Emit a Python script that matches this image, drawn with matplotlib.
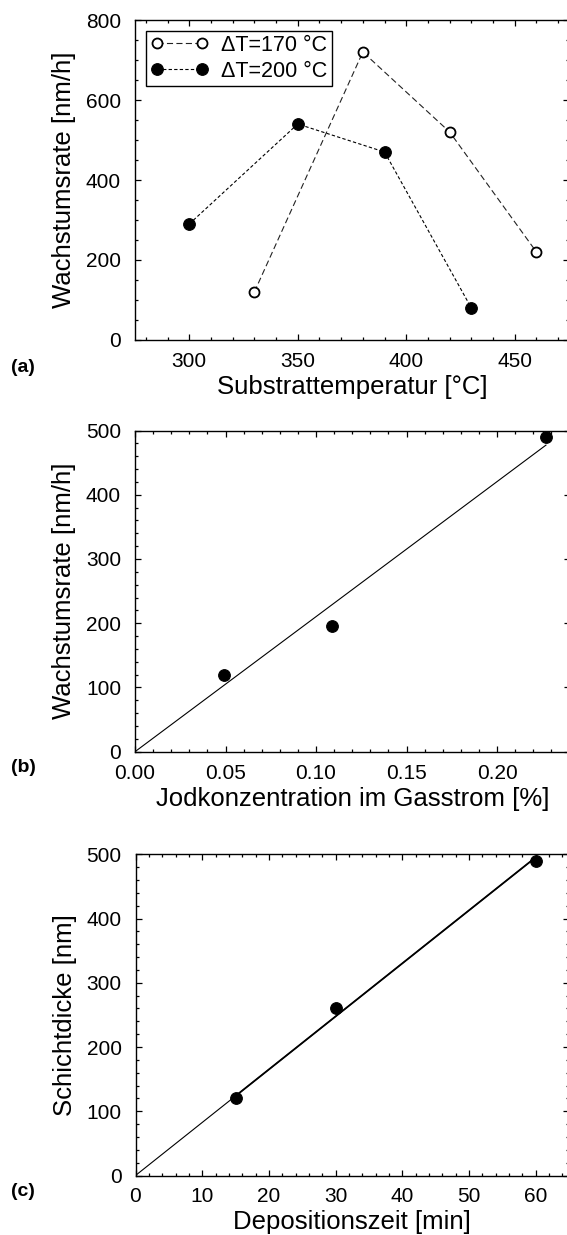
import numpy as np
import matplotlib
matplotlib.use("Agg")
import matplotlib.pyplot as plt
from matplotlib.ticker import MultipleLocator, FormatStrFormatter

# (a) Wachstumsrate vs. Substrattemperatur
temp_170 = [330, 380, 420, 460]
rate_170 = [120, 720, 520, 220]
temp_200 = [300, 350, 390, 430]
rate_200 = [290, 540, 470, 80]

# (b) Wachstumsrate vs. Jodkonzentration
jod = [0.049, 0.109, 0.227]
rate_jod = [120, 195, 490]

# (c) Schichtdicke vs. Depositionszeit
zeit = [15, 30, 60]
dicke = [120, 260, 490]

plt.rcParams["font.family"] = ["Liberation Sans", "DejaVu Sans"]
plt.rcParams["mathtext.default"] = "regular"

W, H = 567, 1235
fig = plt.figure(figsize=(W / 100, H / 100), dpi=100)


def box(left, right, top, bottom):
    return [left / W, 1 - bottom / H, (right - left) / W, (bottom - top) / H]


def style_axes(ax):
    for s in ax.spines.values():
        s.set_linewidth(1.0)
    ax.tick_params(which="both", direction="in", top=True, right=True, width=0.9)
    ax.tick_params(which="major", length=4.2)
    ax.tick_params(which="minor", length=2.2)
    ax.tick_params(axis="x", labelsize=15, pad=8.5)
    ax.tick_params(axis="y", labelsize=15, pad=10)


def fit_origin(x, y):
    x = np.asarray(x, float)
    y = np.asarray(y, float)
    return np.sum(x * y) / np.sum(x * x)


# ---------- (a) ----------
ax1 = fig.add_axes(box(135, 569, 20, 340))
ax1.plot(temp_170, rate_170, color="#222222", lw=0.8, dashes=(5.5, 3),
         marker="o", ms=7.2, mfc="white", mec="black", mew=1.3,
         label="ΔT=170 °C")
ax1.plot(temp_200, rate_200, color="black", lw=0.8, dashes=(3, 2),
         marker="o", ms=8.4, mfc="black", mec="black", mew=0.8,
         label="ΔT=200 °C")
ax1.set_xlim(275, 475)
ax1.set_ylim(0, 800)
ax1.xaxis.set_major_locator(MultipleLocator(50))
ax1.xaxis.set_minor_locator(MultipleLocator(10))
ax1.yaxis.set_major_locator(MultipleLocator(200))
ax1.yaxis.set_minor_locator(MultipleLocator(50))
style_axes(ax1)
ax1.set_xlabel("Substrattemperatur [°C]", fontsize=18.5, va="top")
ax1.set_ylabel("Wachstumsrate [nm/h]", fontsize=18.5)
leg = ax1.legend(loc="upper left", bbox_to_anchor=(0.025, 0.967), fontsize=15.5,
                 frameon=True, fancybox=False, edgecolor="black", framealpha=1,
                 borderpad=0.2, labelspacing=0.22, handlelength=2.7,
                 handletextpad=0.6, borderaxespad=0, numpoints=2)
leg.get_frame().set_linewidth(1.0)

# ---------- (b) ----------
ax2 = fig.add_axes(box(135, 569.5, 430.5, 751.7))
k_b = fit_origin(jod, rate_jod)
xb = np.array([0, max(jod)])
ax2.plot(xb, k_b * xb, color="black", lw=0.8)
ax2.plot(jod, rate_jod, "o", color="black", ms=8.4, mew=0.8, clip_on=False)
ax2.set_xlim(0, 0.24)
ax2.set_ylim(0, 500)
ax2.xaxis.set_major_locator(MultipleLocator(0.05))
ax2.xaxis.set_minor_locator(MultipleLocator(0.01))
ax2.xaxis.set_major_formatter(FormatStrFormatter("%.2f"))
ax2.yaxis.set_major_locator(MultipleLocator(100))
ax2.yaxis.set_minor_locator(MultipleLocator(20))
style_axes(ax2)
ax2.set_xlabel("Jodkonzentration im Gasstrom [%]", fontsize=18.5, va="top")
ax2.set_ylabel("Wachstumsrate [nm/h]", fontsize=18.5)

# ---------- (c) ----------
ax3 = fig.add_axes(box(135.5, 569, 854.3, 1175.5))
k_c = fit_origin(zeit, dicke)
xc = np.array([0, max(zeit)])
ax3.plot(xc, k_c * xc, color="black", lw=0.8)
xc2 = np.array([min(zeit), max(zeit)])
ax3.plot(xc2, k_c * xc2, color="black", lw=1.3)
ax3.plot(zeit, dicke, "o", color="black", ms=8.4, mew=0.8, clip_on=False)
ax3.set_xlim(0, 65)
ax3.set_ylim(0, 500)
ax3.xaxis.set_major_locator(MultipleLocator(10))
ax3.xaxis.set_minor_locator(MultipleLocator(2))
ax3.yaxis.set_major_locator(MultipleLocator(100))
ax3.yaxis.set_minor_locator(MultipleLocator(20))
style_axes(ax3)
ax3.set_xlabel("Depositionszeit [min]", fontsize=18.5, va="top")
ax3.set_ylabel("Schichtdicke [nm]", fontsize=18.5)

# label positions
for ax, (top, bottom) in zip([ax1, ax2, ax3], [(20, 340), (430.5, 751.7), (854.3, 1175.5)]):
    h = bottom - top
    ax.xaxis.set_label_coords(0.5, -35 / h)
    ax.yaxis.set_label_coords(-59 / 434, 0.5)

for txt, y in [("(a)", 367), ("(b)", 768), ("(c)", 1192)]:
    fig.text(11 / W, 1 - y / H, txt, fontsize=14, fontweight="bold",
             ha="left", va="center")

fig.savefig("out.png", dpi=100)
